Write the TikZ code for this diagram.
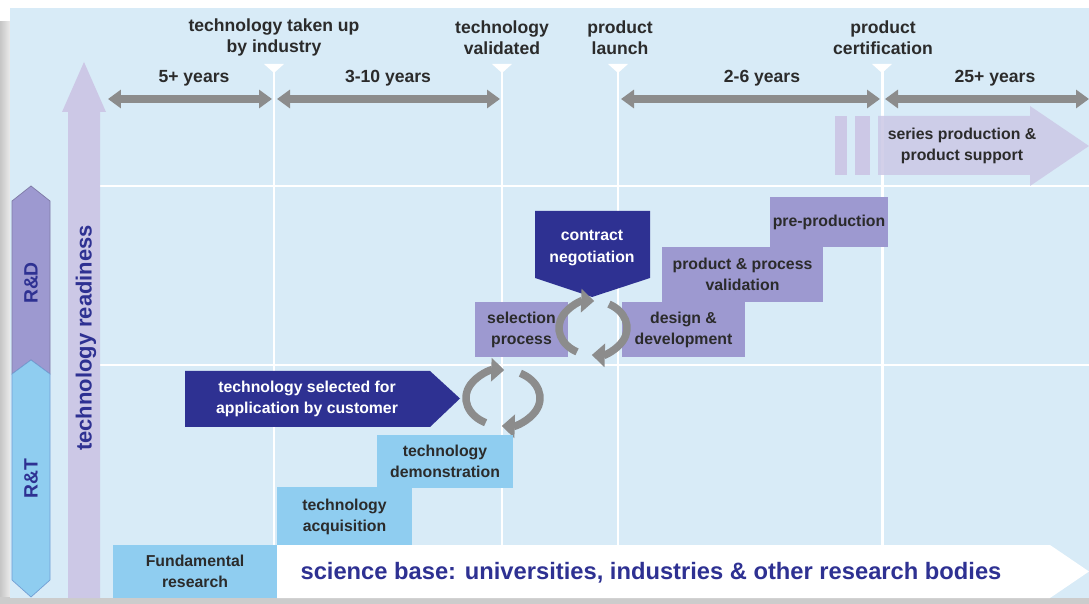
\documentclass[tikz,border=0pt]{standalone}
\usepackage{fontspec}
\setmainfont{Liberation Sans}
\usepackage{xcolor}
\usetikzlibrary{arrows.meta,positioning,calc}
\definecolor{bgblue}{HTML}{D8EBF7}
\definecolor{lavender}{HTML}{CCC8E6}
\definecolor{stagepurple}{HTML}{9D99D0}
\definecolor{stageblue}{HTML}{8FCDF0}
\definecolor{navy}{HTML}{2E3192}
\definecolor{spangray}{HTML}{8C8C8C}
\definecolor{labeldark}{HTML}{2B2B2B}
\definecolor{textblue}{HTML}{2E3192}
\tikzset{
  gridline/.style={white,line width=1.7pt},
  span/.style={{Triangle[length=0.26cm,width=0.36cm]}-{Triangle[length=0.26cm,width=0.36cm]},
    spangray,line width=0.16cm},
  milestone/.style={font=\bfseries\fontsize{10}{12}\selectfont,text=labeldark,align=center,inner sep=0pt},
  years/.style={font=\bfseries\fontsize{10}{12}\selectfont,text=labeldark,inner sep=0pt},
  stage/.style={rectangle,fill=stagepurple,text=labeldark,align=center,inner sep=0pt,
    font=\bfseries\fontsize{9}{12}\selectfont},
  rtstage/.style={stage,fill=stageblue},
  navytext/.style={text=white,align=center,inner sep=0pt,font=\bfseries\fontsize{9}{12}\selectfont},
  sidetext/.style={rotate=90,text=textblue,inner sep=0pt,font=\bfseries\fontsize{11}{13}\selectfont},
  loopy/.style={spangray,line width=0.15cm,-{Triangle[length=0.26cm,width=0.46cm]}}
}

\begin{document}
\begin{tikzpicture}[x=0.02cm,y=-0.02cm]
  \useasboundingbox (0,0) rectangle (1089,604);
  % --- frame and background ---
  \fill[white] (0,0) rectangle (1089,604);
  \shade[left color=gray!45,right color=gray!10] (0,22) rectangle (12,604);
  \fill[gray!40] (0,597) rectangle (1089,604);
  \fill[bgblue] (10,8) rectangle (1089,598);

  % --- grid and milestones ---
  \foreach \x in {274,502,618,882}
    \draw[gridline] (\x,66) -- (\x,598);
  \foreach \y in {186,365}
    \draw[gridline] (100,\y) -- (1089,\y);
  \foreach \x in {274,502,618,882}
    \fill[white] (\x-10,64) -- (\x+10,64) -- (\x,73) -- cycle;

  \node[milestone] (industry) at (274,37.5) {technology taken up\\by industry};
  \node[milestone] (validated) at (502,37.5) {technology\\validated};
  \node[milestone] (launch) at (620,37.5) {product\\launch};
  \node[milestone] (certif) at (883,37.5) {product\\certification};

  % --- time spans ---
  \coordinate (s0) at (108,99);
  \coordinate (s1) at (272,99);
  \coordinate (s2) at (277,99);
  \coordinate (s3) at (500,99);
  \coordinate (s4) at (621,99);
  \coordinate (s5) at (880,99);
  \coordinate (s6) at (885,99);
  \coordinate (s7) at (1089,99);
  \draw[span] (s0) -- (s1);
  \draw[span] (s2) -- (s3);
  \draw[span] (s4) -- (s5);
  \draw[span] (s6) -- (s7);
  \node[years] (y1) at (194,78) {5+ years};
  \node[years] (y2) at (388,78) {3-10 years};
  \node[years] (y3) at (762,78) {2-6 years};
  \node[years] (y4) at (995,78) {25+ years};

  % --- side arrows ---
  \fill[lavender] (68,598) -- (68,112) -- (62,112) -- (84,62) -- (106,112) -- (100,112) -- (100,598) -- cycle;
  \node[sidetext,font=\bfseries\fontsize{12.5}{14}\selectfont] (ready) at (86,338) {technology readiness};
  \filldraw[fill=stagepurple,draw=stagepurple!80!black,line width=0.4pt]
    (12,201) -- (31,186) -- (50,201) -- (50,374) -- (31,360) -- (12,374) -- cycle;
  \filldraw[fill=stageblue,draw=stageblue!70!navy,line width=0.4pt]
    (12,374) -- (31,360) -- (50,374) -- (50,580) -- (31,597) -- (12,580) -- cycle;
  \node[sidetext] (rd) at (31,283) {R\&D};
  \node[sidetext] (rt) at (31,479) {R\&T};

  % --- series production ---
  \fill[lavender] (835,116) rectangle (847,175);
  \fill[lavender] (855,116) rectangle (870,175);
  \fill[lavender,fill opacity=0.85] (878,116) -- (1030,116) -- (1030,106) -- (1089,146) -- (1030,186)
    -- (1030,175) -- (878,175) -- cycle;
  \node[stage,fill=none] (series) at (962,146) {series production \&\\product support};

  % --- R&D stages ---
  \node[stage,minimum width=2.36cm,minimum height=1.0cm] (pre) at (829,222) {pre-production};
  \node[stage,minimum width=3.22cm,minimum height=1.1cm] (valid) at (742.5,274.5) {product \& process\\validation};
  \node[stage,minimum width=2.46cm,minimum height=1.1cm] (design) at (683.5,329.5) {design \&\\development};
  \node[stage,minimum width=1.86cm,minimum height=1.1cm] (select) at (521.5,329.5) {selection\\process};
  \fill[navy] (535,211) -- (650,211) -- (650,278) -- (592,297) -- (535,278) -- cycle;
  \node[navytext] (contract) at (592,248) {contract\\negotiation};
  \coordinate (cyc1) at (593,328);
  \draw[loopy] (cyc1) ++(118:34 and 27) arc[start angle=118,end angle=272,x radius=34,y radius=27];
  \draw[loopy] (cyc1) ++(298:34 and 27) arc[start angle=298,end angle=452,x radius=34,y radius=27];

  % --- R&T stages ---
  \fill[navy] (185,371) -- (430,371) -- (460,398.5) -- (430,427) -- (185,427) -- cycle;
  \node[navytext] (customer) at (307,398.5) {technology selected for\\application by customer};
  \coordinate (cyc2) at (503,398);
  \draw[loopy] (cyc2) ++(118:37 and 28) arc[start angle=118,end angle=272,x radius=37,y radius=28];
  \draw[loopy] (cyc2) ++(298:37 and 28) arc[start angle=298,end angle=452,x radius=37,y radius=28];
  \node[rtstage,minimum width=2.72cm,minimum height=1.06cm] (demo) at (445,461.5) {technology\\demonstration};
  \node[rtstage,minimum width=2.7cm,minimum height=1.18cm] (acq) at (344.5,516.5) {technology\\acquisition};

  % --- science base ---
  \fill[white] (277,545) -- (1050,545) -- (1089,571.5) -- (1050,598) -- (277,598) -- cycle;
  \node[rtstage,minimum width=3.28cm,minimum height=1.06cm] (fund) at (195,571.5) {Fundamental\\research};
  \node[text=textblue,inner sep=0pt,font=\bfseries\fontsize{13.5}{16}\selectfont] (science) at (651,573)
    {science base: universities, industries \& other research bodies};
\end{tikzpicture}
\end{document}
